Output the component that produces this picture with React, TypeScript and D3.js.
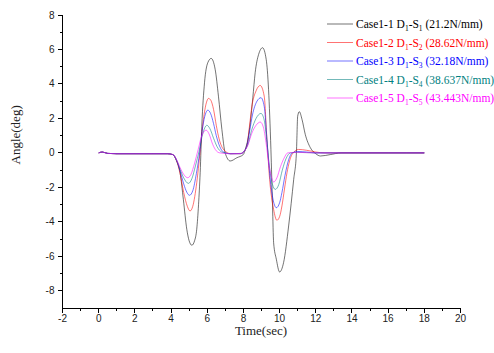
import React from "react";
import * as d3 from "d3";

const xTicks = [-2, 0, 2, 4, 6, 8, 10, 12, 14, 16, 18, 20];
const yTicks = [-8, -6, -4, -2, 0, 2, 4, 6, 8];

const flatT = [0, 0.2, 0.5, 1, 2, 3, 3.8];
const flatV = [0, 0.05, -0.03, -0.05, -0.05, -0.05, -0.05];
const tailT = [14, 15, 16, 17, 18];
const tailV = [0, 0, 0, 0, 0];

const case1T = [...flatT, 4.1, 4.3, 4.5, 4.68, 4.87, 5.0, 5.15, 5.3, 5.42, 5.52, 5.61, 5.7, 5.85, 6.03, 6.22, 6.44, 6.62, 6.81, 6.99, 7.27, 7.64, 8.0, 8.1, 8.25, 8.38, 8.52, 8.65, 8.84, 9.06, 9.26, 9.39, 9.52, 9.61, 9.67, 9.82, 10.0, 10.22, 10.5, 10.78, 10.93, 11.0, 11.09, 11.24, 11.42, 11.7, 12.0, 12.26, 12.8, 13.4, ...tailT];
const case1V = [...flatV, -0.1, -0.45, -1.15, -2.7, -4.43, -5.1, -5.36, -5.1, -4.43, -3.0, -1.15, 1.55, 4.07, 5.23, 5.48, 4.84, 3.29, 1.36, 0, -0.47, -0.28, -0.09, 0.2, 0.8, 1.75, 3.2, 4.65, 5.71, 6.1, 5.42, 3.68, 0.2, -3.08, -5.21, -6.17, -6.91, -6.37, -4.24, -1.54, 0, 2.13, 2.39, 1.94, 1.07, 0.3, -0.05, -0.18, -0.1, 0, ...tailV];

const case2T = [...flatT, 4.1, 4.3, 4.5, 4.7, 4.9, 5.05, 5.2, 5.42, 5.6, 5.79, 5.95, 6.07, 6.2, 6.35, 6.5, 6.62, 6.9, 7.3, 7.8, 8.0, 8.19, 8.33, 8.47, 8.7, 8.93, 9.15, 9.3, 9.45, 9.67, 9.85, 10.0, 10.13, 10.27, 10.41, 10.69, 11.05, 11.5, 12.0, 12.5, 13, ...tailT];
const case2V = [...flatV, -0.1, -0.45, -1.2, -2.3, -3.1, -3.37, -3.1, -1.73, 0, 1.94, 2.9, 3.16, 3.05, 2.52, 1.6, 0.97, 0.2, -0.05, -0.05, 0.05, 0.4, 1.5, 2.71, 3.6, 3.91, 3.29, 0.78, -1.54, -3.28, -3.91, -3.7, -3.08, -2.1, -1.15, -0.09, 0.2, 0.15, 0.05, 0, 0, ...tailV];

const case3T = [...flatT, 4.1, 4.3, 4.5, 4.7, 4.88, 5.02, 5.2, 5.4, 5.58, 5.75, 5.9, 6.03, 6.18, 6.35, 6.5, 6.7, 6.9, 7.3, 7.8, 8.0, 8.2, 8.35, 8.5, 8.75, 8.97, 9.15, 9.3, 9.45, 9.62, 9.82, 10.0, 10.13, 10.3, 10.5, 10.7, 11.0, 11.5, 12, 13, ...tailT];
const case3V = [...flatV, -0.1, -0.42, -1.05, -1.8, -2.3, -2.46, -2.2, -1.2, 0, 1.5, 2.25, 2.48, 2.3, 1.7, 1.0, 0.35, 0.05, -0.05, -0.05, 0.05, 0.45, 1.3, 2.2, 3.0, 3.2, 2.7, 0.8, -1.2, -2.6, -3.18, -2.9, -2.3, -1.3, -0.4, 0, 0.08, 0.05, 0, 0, ...tailV];

const case4T = [...flatT, 4.1, 4.3, 4.5, 4.7, 4.96, 5.15, 5.35, 5.55, 5.75, 5.98, 6.15, 6.35, 6.55, 6.8, 7.3, 7.9, 8.05, 8.25, 8.45, 8.7, 8.97, 9.15, 9.3, 9.45, 9.6, 9.76, 9.95, 10.15, 10.35, 10.6, 11, 12, 13, ...tailT];
const case4V = [...flatV, -0.1, -0.4, -0.95, -1.45, -1.77, -1.5, -0.75, 0.1, 1.1, 1.6, 1.4, 0.85, 0.35, 0.05, -0.05, -0.03, 0.1, 0.5, 1.3, 2.0, 2.29, 1.9, 0.6, -0.9, -1.8, -2.12, -1.85, -1.0, -0.35, 0, 0.03, 0, 0, ...tailV];

const case5T = [...flatT, 4.1, 4.3, 4.5, 4.7, 4.92, 5.1, 5.3, 5.5, 5.7, 5.94, 6.1, 6.3, 6.5, 6.7, 7.3, 7.9, 8.05, 8.25, 8.45, 8.7, 8.93, 9.1, 9.25, 9.4, 9.55, 9.67, 9.85, 10.05, 10.25, 10.45, 11, 12, 13, ...tailT];
const case5V = [...flatV, -0.1, -0.38, -0.85, -1.25, -1.44, -1.25, -0.6, 0.2, 1.0, 1.32, 1.1, 0.5, 0.12, 0, -0.05, -0.03, 0.1, 0.45, 1.1, 1.6, 1.79, 1.5, 0.6, -0.6, -1.4, -1.69, -1.45, -0.8, -0.3, 0, 0.03, 0, 0, ...tailV];

const seriesNames = ["Case1-1", "Case1-2", "Case1-3", "Case1-4", "Case1-5"];
const seriesSub = ["1", "2", "3", "4", "5"];
const seriesStiff = ["(21.2N/mm)", "(28.62N/mm)", "(32.18N/mm)", "(38.637N/mm)", "(43.443N/mm)"];
const seriesColors = ["#000000", "#ff0000", "#0000ff", "#008080", "#ff00ff"];
const seriesT = [case1T, case2T, case3T, case4T, case5T];
const seriesV = [case1V, case2V, case3V, case4V, case5V];

export default function App() {
  const W = 494, H = 353;
  const x = d3.scaleLinear().domain([-2, 20]).range([62.5, 460.5]);
  const y = d3.scaleLinear().domain([-9, 8]).range([308, 15]);
  const line = d3
    .line<[number, number]>()
    .x((d) => x(d[0]))
    .y((d) => y(d[1]))
    .curve(d3.curveMonotoneX);

  const xMinor = d3.range(-1, 20, 2);
  const yMinor = d3.range(-9, 8, 2).filter((v) => v !== -9);
  const sans = "'Liberation Sans', Arial, sans-serif";
  const serif = "'Liberation Serif', 'Times New Roman', serif";

  return (
    <svg width={W} height={H} style={{ position: "absolute", left: 0, top: 0, background: "#fff" }}>
      {seriesT.map((ts, i) => {
        const pts = ts.map((t, j) => [t, seriesV[i][j]] as [number, number]);
        return (
          <path
            key={i}
            d={line(pts) || ""}
            fill="none"
            stroke={seriesColors[i]}
            strokeOpacity={0.55}
            strokeWidth={1}
          />
        );
      })}
      <g stroke="#000" strokeWidth={1} shapeRendering="crispEdges">
        <line x1={x(-2)} x2={x(-2)} y1={y(8)} y2={y(-9)} />
        <line x1={x(-2)} x2={x(20)} y1={y(-9)} y2={y(-9)} />
        {xTicks.map((t) => (
          <line key={"xt" + t} x1={x(t)} x2={x(t)} y1={y(-9)} y2={y(-9) + 5} />
        ))}
        {xMinor.map((t) => (
          <line key={"xm" + t} x1={x(t)} x2={x(t)} y1={y(-9)} y2={y(-9) + 3} />
        ))}
        {yTicks.map((t) => (
          <line key={"yt" + t} x1={x(-2) - 5} x2={x(-2)} y1={y(t)} y2={y(t)} />
        ))}
        {yMinor.map((t) => (
          <line key={"ym" + t} x1={x(-2) - 3} x2={x(-2)} y1={y(t)} y2={y(t)} />
        ))}
      </g>
      <g fontFamily={sans} fontSize={10} fill="#222">
        {xTicks.map((t) => (
          <text key={"xl" + t} x={x(t)} y={y(-9) + 14} textAnchor="middle">
            {t}
          </text>
        ))}
        {yTicks.map((t) => (
          <text key={"yl" + t} x={x(-2) - 8} y={y(t) + 3.5} textAnchor="end">
            {t}
          </text>
        ))}
      </g>
      <text x={261} y={335} textAnchor="middle" fontFamily={serif} fontSize={13} fill="#222">
        Time(sec)
      </text>
      <text
        transform={`translate(20,${y(0) - 18}) rotate(-90)`}
        textAnchor="middle"
        fontFamily={serif}
        fontSize={13}
        fill="#222"
      >
        Angle(deg)
      </text>
      <g fontFamily={serif} fontSize={11.5}>
        {seriesNames.map((n, i) => {
          const ly = 24 + i * 18.5;
          return (
            <g key={n}>
              <line x1={327} x2={353} y1={ly} y2={ly} stroke={seriesColors[i]} strokeOpacity={0.55} strokeWidth={1} />
              <text x={356} y={ly + 4} fill={seriesColors[i]}>
                {n} D<tspan fontSize={7.5} dy={3}>1</tspan>
                <tspan dy={-3}>-S</tspan>
                <tspan fontSize={7.5} dy={3}>{seriesSub[i]}</tspan>
                <tspan dy={-3}> {seriesStiff[i]}</tspan>
              </text>
            </g>
          );
        })}
      </g>
    </svg>
  );
}
